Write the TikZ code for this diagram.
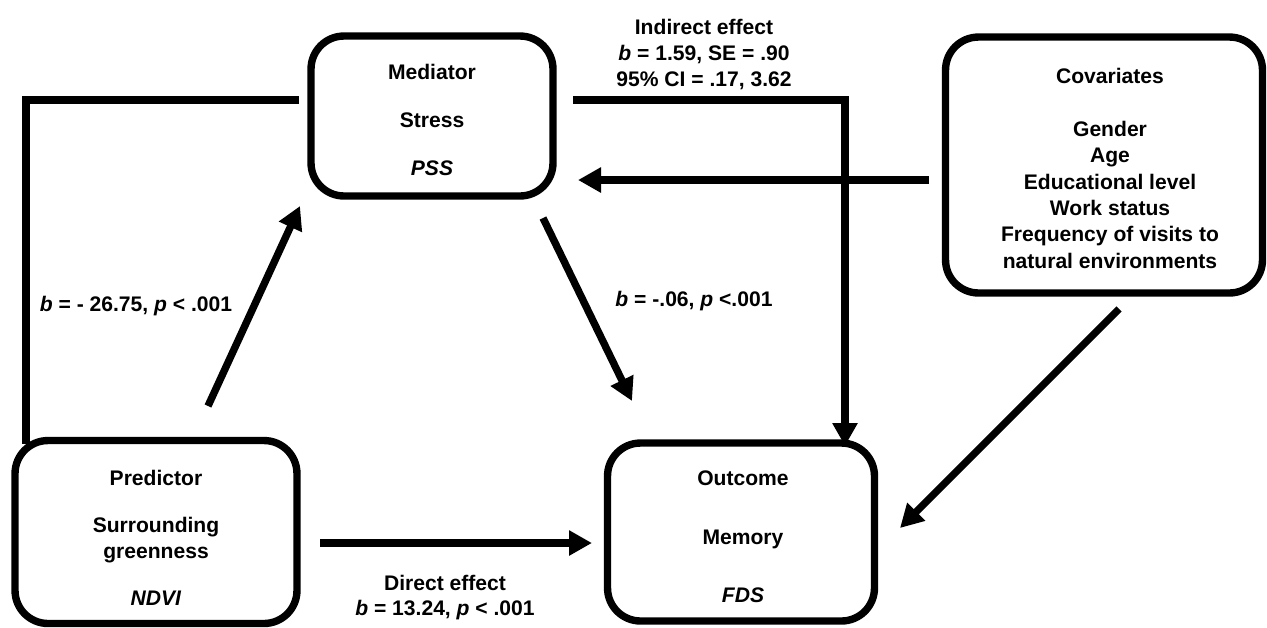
\documentclass[tikz,border=0pt]{standalone}
\usepackage{fontspec}
\setmainfont{Liberation Sans}
\usetikzlibrary{positioning,arrows.meta}

\begin{document}
\begin{tikzpicture}[x=0.02cm,y=-0.02cm,
    font=\fontsize{12}{14.5}\selectfont\bfseries,
    varbox/.style={draw,line width=4.2pt,rounded corners=0.66cm,inner sep=0pt},
    boxtext/.style={align=center,inner sep=0pt},
    link/.style={line width=4.2pt},
    arr/.style={link,-{Triangle[length=0.46cm,width=0.48cm]}}]
    \useasboundingbox (0,0) rectangle (1267,627);

    % boxes
    \node[varbox,minimum width=4.84cm,minimum height=3.2cm] (med) at (432,116) {};
    \node[varbox,minimum width=6.34cm,minimum height=5.12cm] (cov) at (1104,165) {};
    \node[varbox,minimum width=5.64cm,minimum height=3.66cm] (pred) at (156,532) {};
    \node[varbox,minimum width=5.34cm,minimum height=3.56cm] (out) at (741,532) {};

    % box texts
    \node[boxtext] (medtxt) at ([yshift=-3.5*0.02cm]med.center)
        {Mediator\\[12.8pt] Stress\\[12.8pt] \textit{PSS}};
    \node[boxtext,font=\fontsize{12}{15}\selectfont\bfseries] (covtxt)
        at ([xshift=6*0.02cm,yshift=-3.5*0.02cm]cov.center)
        {Covariates\\[15pt] Gender\\ Age\\ Educational level\\ Work status\\ Frequency of visits to\\ natural environments};
    \node[boxtext] (predtxt) at ([yshift=-6*0.02cm]pred.center)
        {Predictor\\[12.5pt] Surrounding\\ greenness\\[12.5pt] \textit{NDVI}};
    \node[boxtext] (outtxt) at ([xshift=2*0.02cm,yshift=-5*0.02cm]out.center)
        {Outcome\\[18.8pt] Memory\\[18.8pt] \textit{FDS}};

    % free ends of the connectors
    \coordinate (medL) at (299,100);
    \coordinate (cornerL) at (26,100);
    \coordinate (predT) at (26,444);
    \coordinate (medR) at (573,100);
    \coordinate (cornerR) at (845,100);
    \coordinate (outT) at (845,446);
    \coordinate (covL) at (929,180);
    \coordinate (medE) at (578,180);
    \coordinate (predA) at (208,406);
    \coordinate (medA) at (300,206);
    \coordinate (medB) at (543,218);
    \coordinate (outB) at (632,401);
    \coordinate (covB) at (1119,309);
    \coordinate (outC) at (900,528);
    \coordinate (predE) at (320,543);
    \coordinate (outW) at (592,543);

    \draw [link] (medL) -- (cornerL) -- (predT);
    \draw [arr] (medR) -- (cornerR) -- (outT);
    \draw [arr] (covL) -- (medE);
    \draw [arr] (predA) -- (medA);
    \draw [arr] (medB) -- (outB);
    \draw [arr] (covB) -- (outC);
    \draw [arr] (predE) -- (outW);

    % labels
    \node (lblA) at (136,306) {\textit{b} = - 26.75, \textit{p} < .001};
    \node (lblB) at (694,301) {\textit{b} = -.06, \textit{p} <.001};
    \node[align=center] (lblInd) at (704,54.5)
        {Indirect effect\\[0.5pt] \textit{b} = 1.59, SE = .90\\[0.5pt] 95\% CI = .17, 3.62};
    \node[align=center] (lblDir) at (445,597.5)
        {Direct effect\\ \textit{b} = 13.24, \textit{p} < .001};
\end{tikzpicture}
\end{document}
